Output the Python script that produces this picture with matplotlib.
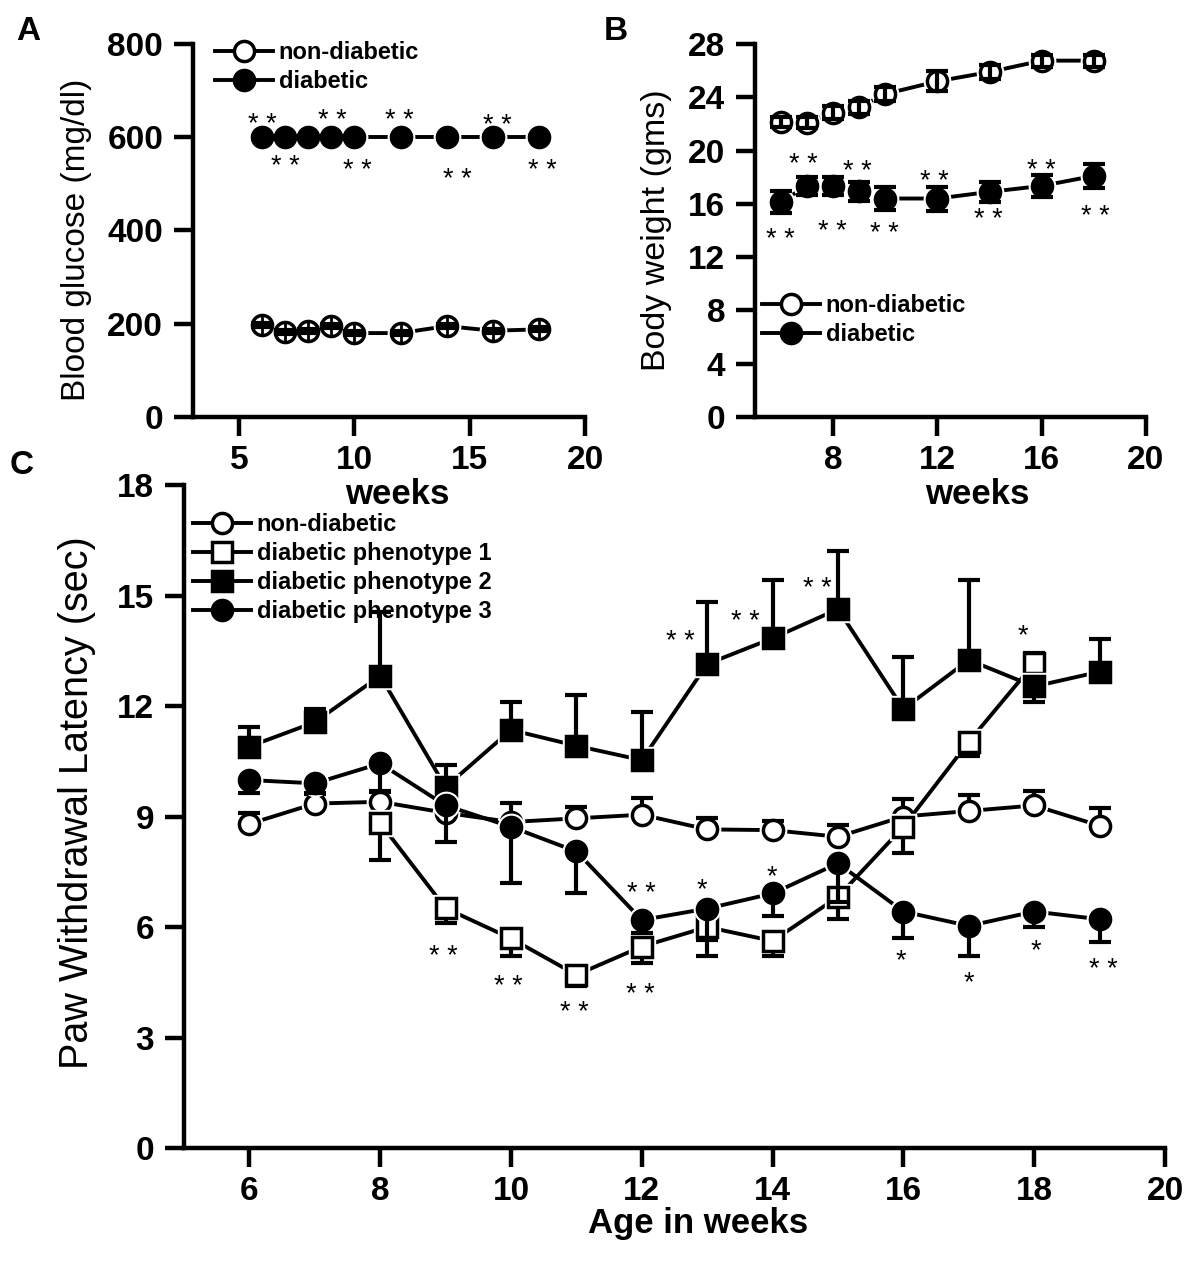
import numpy as np
import matplotlib.pyplot as plt
from matplotlib.lines import Line2D

plt.rcParams['font.family'] = ['Liberation Sans', 'DejaVu Sans']

# ---- panel A: blood glucose ----
weeks_ab = [6, 7, 8, 9, 10, 12, 14, 16, 18]
glucose_nd = [198, 183, 185, 195, 180, 180, 195, 185, 188]
glucose_nd_err = [4, 4, 4, 4, 4, 4, 4, 4, 4]
glucose_d = [600, 600, 600, 600, 600, 600, 600, 600, 600]
glucose_d_err = [3, 3, 3, 3, 3, 3, 3, 3, 3]
astA_x = [6.0, 9.05, 11.95, 16.2, 7.0, 10.15, 14.45, 18.15]
astA_y = [645, 652, 652, 641, 555, 545, 527, 545]

# ---- panel B: body weight ----
weight_nd = [22.15, 22.1, 22.85, 23.25, 24.25, 25.2, 25.9, 26.75, 26.75]
weight_nd_err = [0.4, 0.4, 0.5, 0.5, 0.5, 0.75, 0.5, 0.45, 0.45]
weight_d = [16.15, 17.35, 17.35, 16.95, 16.4, 16.4, 16.9, 17.35, 18.1]
weight_d_err = [0.85, 0.7, 0.7, 0.7, 0.85, 0.9, 0.75, 0.85, 0.9]
astB_x = [6.85, 8.92, 11.9, 16.0, 5.96, 7.96, 9.98, 13.94, 18.05]
astB_y = [19.54, 19.04, 18.28, 19.09, 13.9, 14.48, 14.33, 15.4, 15.65]

# ---- panel C: paw withdrawal latency ----
weeks_c = [6, 7, 8, 9, 10, 11, 12, 13, 14, 15, 16, 17, 18, 19]
nd = [8.8, 9.35, 9.4, 9.1, 8.85, 8.95, 9.05, 8.65, 8.63, 8.45, 9.0, 9.15, 9.3, 8.75]
nd_hi = [0.3, 0.27, 0.27, 0.2, 0.52, 0.3, 0.45, 0.3, 0.25, 0.32, 0.47, 0.44, 0.38, 0.47]

weeks_p1 = [8, 9, 10, 11, 12, 13, 14, 15, 16, 17, 18]
p1 = [8.82, 6.51, 5.69, 4.70, 5.47, 6.0, 5.62, 6.82, 8.72, 11.03, 13.16]
p1_lo = [1.0, 0.41, 0.49, 0.3, 0.44, 0.35, 0.42, 0.61, 0.72, 0.4, 0.0]
p1_hi = [0, 0, 0, 0, 0, 0, 0, 0, 0, 0, 0.27]

p2 = [10.9, 11.56, 12.82, 9.8, 11.35, 10.92, 10.53, 13.14, 13.84, 14.63, 11.92, 13.25, 12.53, 12.93]
p2_lo = [0, 0, 0, 0, 0, 0, 0, 0, 0, 0, 0, 0, 0.41, 0]
p2_hi = [0.52, 0.35, 1.74, 0.6, 0.77, 1.38, 1.3, 1.68, 1.58, 1.57, 1.4, 2.17, 0, 0.89]

p3 = [9.99, 9.9, 10.44, 9.3, 8.72, 8.05, 6.19, 6.5, 6.91, 7.73, 6.42, 6.03, 6.42, 6.21]
p3_lo = [0.36, 0.27, 0.76, 0.98, 1.52, 1.14, 0.36, 1.3, 0.61, 1.04, 0.73, 0.83, 0.41, 0.61]

astC_x = [12.59, 13.58, 14.68, 8.96, 9.96, 10.97, 11.98, 12.0, 12.92, 13.99,
          15.96, 17.0, 18.02, 19.06, 17.82]
astC_y = [13.96, 14.52, 15.4, 5.42, 4.61, 3.88, 4.38, 7.11, 7.23, 7.59,
          5.29, 4.70, 5.56, 5.06, 14.11]
astC_lbl = ['* *', '* *', '* *', '* *', '* *', '* *', '* *', '* *', '*', '*',
            '*', '*', '*', '* *', '*']

W, H = 1200, 1262
fig = plt.figure(figsize=(W / 100, H / 100), dpi=100)


def add_ax(l, t, r, b):
    return fig.add_axes([l / W, 1 - b / H, (r - l) / W, (b - t) / H])


def style(ax, xt, yt, xpad=8):
    for s in ['top', 'right']:
        ax.spines[s].set_visible(False)
    for s in ['left', 'bottom']:
        ax.spines[s].set_linewidth(3.2)
    ax.set_xticks(xt, [str(t) for t in xt], fontweight='bold', fontsize=24)
    ax.set_yticks(yt, [str(t) for t in yt], fontweight='bold', fontsize=24)
    ax.tick_params(direction='out', length=13.5, width=3.2, pad=8)
    ax.tick_params(axis='x', pad=xpad)


def series(ax, x, y, lo, hi, marker, filled, z, err_top=False, ms=14.5):
    ax.plot(x, y, '-', color='k', lw=2.8, zorder=z)
    ax.plot(x, y, ls='none', marker=marker, ms=ms + 4.5, mfc='white', mec='white', zorder=z + 1)
    ax.errorbar(x, y, yerr=[lo, hi], fmt='none', ecolor='k', elinewidth=3,
                capsize=8, capthick=3, zorder=z + 3 if err_top else z + 2)
    ax.plot(x, y, ls='none', marker=marker, ms=ms, mfc='k' if filled else 'white',
            mec='k', mew=2.5, zorder=z + 2 if err_top else z + 3)


def stars(ax, xs, ys, labels):
    for x, y, s in zip(xs, ys, labels):
        ax.annotate(s, (x, y), xytext=(0, -6), textcoords='offset points',
                    ha='center', va='center', fontsize=19.5, zorder=30)


def handle(marker, filled):
    return Line2D([], [], color='k', lw=2.8, marker=marker, ms=14.5,
                  mfc='k' if filled else 'white', mec='k', mew=2.5)


leg_kw = dict(frameon=False, borderpad=0, borderaxespad=0, handlelength=2.45,
              handletextpad=0.25, labelspacing=0.26, numpoints=1,
              prop={'weight': 'bold', 'size': 17}, bbox_transform=fig.transFigure,
              loc='upper left')

# panel A
axA = add_ax(193, 44, 585, 417)
axA.set_xlim(3, 20)
axA.set_ylim(0, 800)
style(axA, [5, 10, 15, 20], [0, 200, 400, 600, 800], xpad=7)
series(axA, weeks_ab, glucose_nd, glucose_nd_err, glucose_nd_err, 'o', False, 2, err_top=True)
axA.plot(weeks_ab, glucose_nd, ls='none', marker='+', ms=14.5, mew=2, color='k', zorder=6)
series(axA, weeks_ab, glucose_d, glucose_d_err, glucose_d_err, 'o', True, 7, err_top=True)
stars(axA, astA_x, astA_y, ['* *'] * len(astA_x))
axA.legend([handle('o', False), handle('o', True)], ['non-diabetic', 'diabetic'],
           bbox_to_anchor=(215 / W, 1 - 41 / H), **leg_kw)

# panel B
axB = add_ax(755, 44, 1146, 417)
axB.set_xlim(5, 20)
axB.set_ylim(0, 28)
style(axB, [8, 12, 16, 20], [0, 4, 8, 12, 16, 20, 24, 28], xpad=7)
series(axB, weeks_ab, weight_nd, weight_nd_err, weight_nd_err, 'o', False, 2, err_top=True)
series(axB, weeks_ab, weight_d, weight_d_err, weight_d_err, 'o', True, 7, err_top=True)
stars(axB, astB_x, astB_y, ['* *'] * len(astB_x))
axB.legend([handle('o', False), handle('o', True)], ['non-diabetic', 'diabetic'],
           bbox_to_anchor=(762 / W, 1 - 294 / H), **leg_kw)

# panel C
axC = add_ax(184, 485, 1165, 1148)
axC.set_xlim(5, 20)
axC.set_ylim(0, 18)
style(axC, [6, 8, 10, 12, 14, 16, 18, 20], [0, 3, 6, 9, 12, 15, 18], xpad=7)
zeros_c = [0] * len(weeks_c)
series(axC, weeks_c, nd, zeros_c, nd_hi, 'o', False, 2)
series(axC, weeks_p1, p1, p1_lo, p1_hi, 's', False, 7, ms=14)
series(axC, weeks_c, p2, p2_lo, p2_hi, 's', True, 12, ms=14)
series(axC, weeks_c, p3, p3_lo, zeros_c, 'o', True, 17)
stars(axC, astC_x, astC_y, astC_lbl)
axC.legend([handle('o', False), handle('s', False), handle('s', True), handle('o', True)],
           ['non-diabetic', 'diabetic phenotype 1', 'diabetic phenotype 2', 'diabetic phenotype 3'],
           bbox_to_anchor=(193 / W, 1 - 513 / H), **leg_kw)


# labels
def ftext(x, y, s, **kw):
    fig.text(x / W, 1 - y / H, s, ha='center', va='center', **kw)


ftext(77, 240, 'Blood glucose (mg/dl)', rotation=90, fontsize=24)
ftext(656, 230, 'Body weight (gms)', rotation=90, fontsize=24.5)
ftext(77, 803, 'Paw Withdrawal Latency (sec)', rotation=90, fontsize=28.5)
ftext(397, 494, 'weeks', fontsize=25, fontweight='bold')
ftext(977, 494, 'weeks', fontsize=25, fontweight='bold')
ftext(698, 1224, 'Age in weeks', fontsize=25, fontweight='bold')
ftext(28, 31, 'A', fontsize=24, fontweight='bold')
ftext(616, 31, 'B', fontsize=24, fontweight='bold')
ftext(22, 466, 'C', fontsize=24, fontweight='bold')

fig.savefig('out.png', dpi=100)
